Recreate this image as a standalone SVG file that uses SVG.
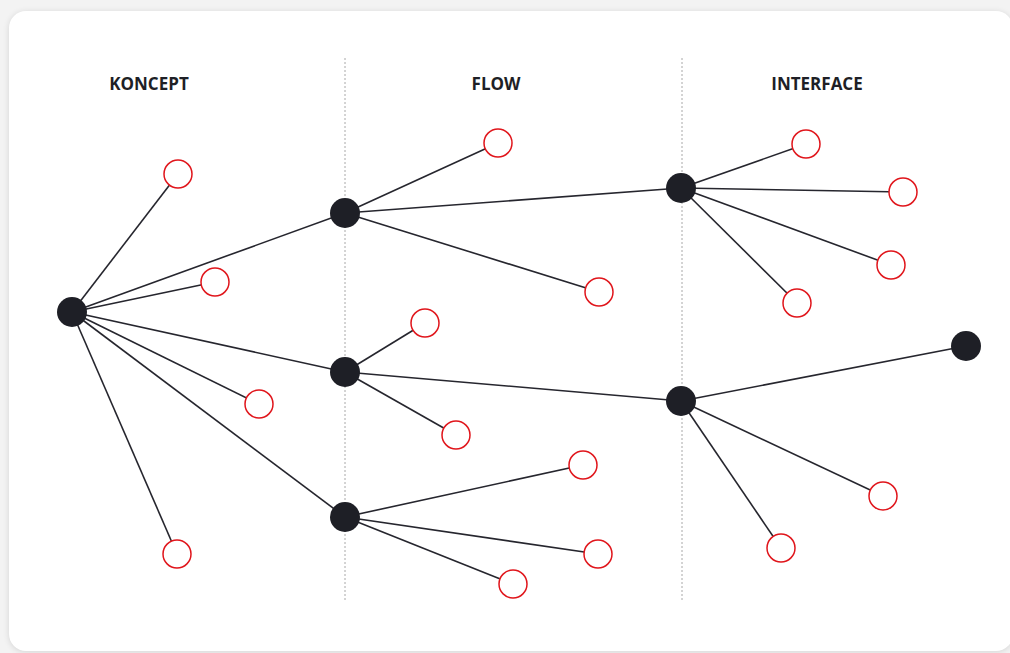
<svg xmlns="http://www.w3.org/2000/svg" width="1010" height="653" viewBox="0 0 1010 653">
  <defs>
    <filter id="sh" x="-5%" y="-5%" width="110%" height="110%">
      <feGaussianBlur stdDeviation="3"/>
    </filter>
    <style>
      .lbl{font-family:"Open Sans","Liberation Sans",sans-serif;font-weight:700;font-size:17px;fill:#1e1f26;text-anchor:middle}
      .div{stroke:#a8a8a8;stroke-width:1;stroke-dasharray:2 2;fill:none}
      .edge{stroke:#26262e;stroke-width:1.6;fill:none}
      .hub{fill:#1e1f26}
      .leaf{fill:#ffffff;stroke:#e0151b;stroke-width:1.5}
    </style>
  </defs>
  <rect x="0" y="0" width="1010" height="653" fill="#f3f3f3"/>
  <rect x="9" y="12" width="1004" height="640" rx="17" fill="#000" opacity="0.12" filter="url(#sh)"/>
  <rect x="9" y="11" width="1004" height="640" rx="17" fill="#ffffff"/>

  <g id="labels">
    <text class="lbl" x="149" y="90">KONCEPT</text>
    <text class="lbl" x="496" y="90">FLOW</text>
    <text class="lbl" x="817" y="90">INTERFACE</text>
  </g>
  <g id="dividers">
    <line class="div" x1="345" y1="58" x2="345" y2="600"/>
    <line class="div" x1="682" y1="58" x2="682" y2="600"/>
  </g>

  <g id="connectors">
    <line class="edge" x1="72" y1="312" x2="178" y2="174"/>
    <line class="edge" x1="72" y1="312" x2="215" y2="282"/>
    <line class="edge" x1="72" y1="312" x2="259" y2="404"/>
    <line class="edge" x1="72" y1="312" x2="177" y2="554"/>
    <line class="edge" x1="72" y1="312" x2="345" y2="213"/>
    <line class="edge" x1="72" y1="312" x2="345" y2="372"/>
    <line class="edge" x1="72" y1="312" x2="345" y2="517"/>
    <line class="edge" x1="345" y1="213" x2="498" y2="143"/>
    <line class="edge" x1="345" y1="213" x2="599" y2="292"/>
    <line class="edge" x1="345" y1="213" x2="681" y2="188"/>
    <line class="edge" x1="681" y1="188" x2="806" y2="144"/>
    <line class="edge" x1="681" y1="188" x2="903" y2="192"/>
    <line class="edge" x1="681" y1="188" x2="891" y2="265"/>
    <line class="edge" x1="681" y1="188" x2="797" y2="303"/>
    <line class="edge" x1="345" y1="372" x2="425" y2="323"/>
    <line class="edge" x1="345" y1="372" x2="456" y2="435"/>
    <line class="edge" x1="345" y1="372" x2="681" y2="401"/>
    <line class="edge" x1="681" y1="401" x2="966" y2="346"/>
    <line class="edge" x1="681" y1="401" x2="883" y2="496"/>
    <line class="edge" x1="681" y1="401" x2="781" y2="548"/>
    <line class="edge" x1="345" y1="517" x2="583" y2="465"/>
    <line class="edge" x1="345" y1="517" x2="598" y2="554"/>
    <line class="edge" x1="345" y1="517" x2="513" y2="584"/>
  </g>

  <g id="root"><circle class="hub" cx="72" cy="312" r="15"/></g>
  <g id="k1"><circle class="leaf" cx="178" cy="174" r="14"/></g>
  <g id="k2"><circle class="leaf" cx="215" cy="282" r="14"/></g>
  <g id="k3"><circle class="leaf" cx="259" cy="404" r="14"/></g>
  <g id="k4"><circle class="leaf" cx="177" cy="554" r="14"/></g>

  <g id="f1"><circle class="hub" cx="345" cy="213" r="15"/></g>
  <g id="f1a"><circle class="leaf" cx="498" cy="143" r="14"/></g>
  <g id="f1b"><circle class="leaf" cx="599" cy="292" r="14"/></g>
  <g id="f2"><circle class="hub" cx="345" cy="372" r="15"/></g>
  <g id="f2a"><circle class="leaf" cx="425" cy="323" r="14"/></g>
  <g id="f2b"><circle class="leaf" cx="456" cy="435" r="14"/></g>
  <g id="f3"><circle class="hub" cx="345" cy="517" r="15"/></g>
  <g id="f3a"><circle class="leaf" cx="583" cy="465" r="14"/></g>
  <g id="f3b"><circle class="leaf" cx="598" cy="554" r="14"/></g>
  <g id="f3c"><circle class="leaf" cx="513" cy="584" r="14"/></g>

  <g id="i1"><circle class="hub" cx="681" cy="188" r="15"/></g>
  <g id="i1a"><circle class="leaf" cx="806" cy="144" r="14"/></g>
  <g id="i1b"><circle class="leaf" cx="903" cy="192" r="14"/></g>
  <g id="i1c"><circle class="leaf" cx="891" cy="265" r="14"/></g>
  <g id="i1d"><circle class="leaf" cx="797" cy="303" r="14"/></g>
  <g id="i2"><circle class="hub" cx="681" cy="401" r="15"/></g>
  <g id="i2a"><circle class="hub" cx="966" cy="346" r="15"/></g>
  <g id="i2b"><circle class="leaf" cx="883" cy="496" r="14"/></g>
  <g id="i2c"><circle class="leaf" cx="781" cy="548" r="14"/></g>
</svg>
